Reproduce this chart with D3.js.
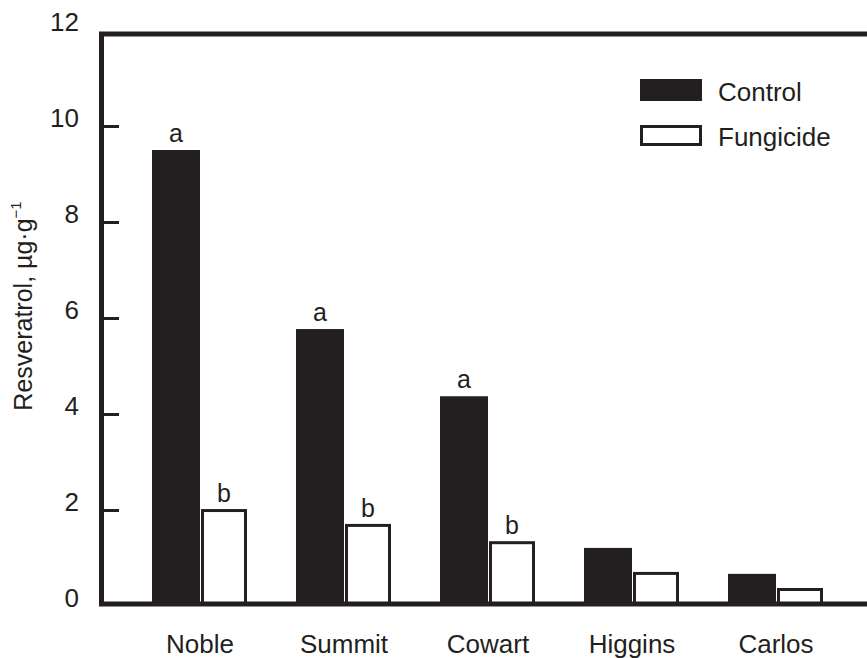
<!DOCTYPE html>
<html>
<head>
<meta charset="utf-8">
<script src="https://cdn.jsdelivr.net/npm/d3@7"></script>
<style>
  body { margin: 0; background: #fff; }
  text { font-family: "Liberation Sans", Arial, Helvetica, sans-serif; fill: #231f20; }
</style>
</head>
<body>
<div id="chart"></div>
<script>
// data
var cultivars = ['Noble', 'Summit', 'Cowart', 'Higgins', 'Carlos'];
var control = [9.5, 5.77, 4.37, 1.21, 0.67];
var fungicide = [2.02, 1.71, 1.35, 0.71, 0.375];
var controlLetters = ['a', 'a', 'a', '', ''];
var fungicideLetters = ['b', 'b', 'b', '', ''];
var yTicks = [0, 2, 4, 6, 8, 10, 12];

var chart_width = 867;
var chart_height = 658;
var ink = '#231f20';

var svg = d3.select('#chart')
  .append('svg')
  .attr('width', chart_width)
  .attr('height', chart_height);

// scales
var x_scale = d3.scaleBand()
  .domain(cultivars)
  .range([104, 872])
  .paddingInner(1 / 3)
  .paddingOuter(1 / 3);

var x_sub = d3.scaleBand()
  .domain(['control', 'fungicide'])
  .range([0, x_scale.bandwidth()]);

var y_scale = d3.scaleLinear()
  .domain([0, 12])
  .range([606, 30]);

// bars - control (filled)
svg.append('g')
  .selectAll('rect')
  .data(control)
  .enter()
  .append('rect')
  .attr('x', function(d, i) { return x_scale(cultivars[i]) + x_sub('control'); })
  .attr('y', function(d) { return y_scale(d); })
  .attr('width', x_sub.bandwidth())
  .attr('height', function(d) { return y_scale(0) - y_scale(d); })
  .attr('fill', ink);

// bars - fungicide (open)
svg.append('g')
  .selectAll('rect')
  .data(fungicide)
  .enter()
  .append('rect')
  .attr('x', function(d, i) { return x_scale(cultivars[i]) + x_sub('fungicide') + 2.5; })
  .attr('y', function(d) { return y_scale(d) + 1.5; })
  .attr('width', x_sub.bandwidth() - 5)
  .attr('height', function(d) { return y_scale(0) - y_scale(d) - 3.5; })
  .attr('fill', '#fff')
  .attr('stroke', ink)
  .attr('stroke-width', 3);

// significance letters
svg.append('g')
  .selectAll('text')
  .data(control)
  .enter()
  .append('text')
  .attr('x', function(d, i) { return x_scale(cultivars[i]) + x_sub('control') + x_sub.bandwidth() / 2; })
  .attr('y', function(d) { return y_scale(d) - 8; })
  .attr('text-anchor', 'middle')
  .attr('font-size', 25)
  .text(function(d, i) { return controlLetters[i]; });

svg.append('g')
  .selectAll('text')
  .data(fungicide)
  .enter()
  .append('text')
  .attr('x', function(d, i) { return x_scale(cultivars[i]) + x_sub('fungicide') + x_sub.bandwidth() / 2; })
  .attr('y', function(d) { return y_scale(d) - 7; })
  .attr('text-anchor', 'middle')
  .attr('font-size', 25)
  .text(function(d, i) { return fungicideLetters[i]; });

// frame
svg.append('path')
  .attr('d', 'M 101.5 604 L 101.5 34 L 870 34')
  .attr('fill', 'none')
  .attr('stroke', ink)
  .attr('stroke-width', 5);
svg.append('line')
  .attr('x1', 99).attr('x2', 870)
  .attr('y1', 604).attr('y2', 604)
  .attr('stroke', ink)
  .attr('stroke-width', 5);

// y axis ticks (inward) and labels
var y_axis = d3.axisRight(y_scale)
  .tickValues(yTicks.slice(1, -1))
  .tickSize(15)
  .tickFormat('');
svg.append('g')
  .attr('class', 'y-axis')
  .attr('transform', 'translate(104,0)')
  .call(y_axis)
  .call(function(g) {
    g.select('.domain').remove();
    g.selectAll('.tick line').attr('stroke', ink).attr('stroke-width', 3);
  });

svg.append('g')
  .selectAll('text')
  .data(yTicks)
  .enter()
  .append('text')
  .attr('x', 79)
  .attr('y', function(d) { return y_scale(d) + 1; })
  .attr('text-anchor', 'end')
  .attr('font-size', 26)
  .text(function(d) { return d; });

// category labels
svg.append('g')
  .selectAll('text')
  .data(cultivars)
  .enter()
  .append('text')
  .attr('x', function(d) { return x_scale(d) + x_scale.bandwidth() / 2; })
  .attr('y', 653)
  .attr('text-anchor', 'middle')
  .attr('font-size', 26)
  .text(function(d) { return d; });

// y axis title
var title = svg.append('text')
  .attr('transform', 'translate(32,306) rotate(-90)')
  .attr('text-anchor', 'middle')
  .attr('font-size', 25);
title.append('tspan').text('Resveratrol, µg·g');
title.append('tspan').attr('font-size', 15).attr('dy', -11).text('−1');

// legend
var legend = svg.append('g');
legend.append('rect')
  .attr('x', 640).attr('y', 79)
  .attr('width', 62).attr('height', 22)
  .attr('fill', ink);
legend.append('rect')
  .attr('x', 641.5).attr('y', 126.5)
  .attr('width', 59).attr('height', 18)
  .attr('fill', '#fff')
  .attr('stroke', ink)
  .attr('stroke-width', 3);
legend.append('text')
  .attr('x', 718).attr('y', 101)
  .attr('font-size', 26)
  .text('Control');
legend.append('text')
  .attr('x', 718).attr('y', 146)
  .attr('font-size', 26)
  .text('Fungicide');
</script>
</body>
</html>
